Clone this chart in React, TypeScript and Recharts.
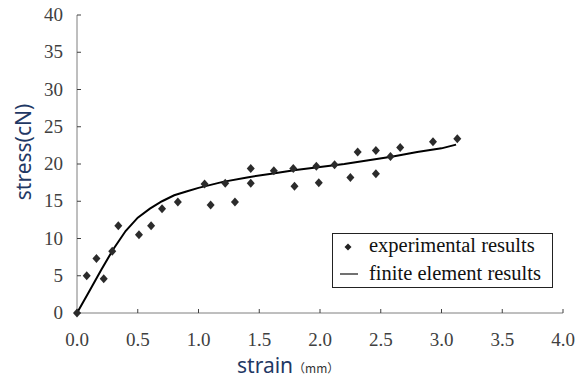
import React from 'react';
import {
  ComposedChart,
  XAxis,
  YAxis,
  Scatter,
  Line,
  Legend,
  Label,
} from 'recharts';

const strainExp = [
  0, 0.08, 0.16, 0.22, 0.29, 0.34, 0.51, 0.61, 0.7, 0.83, 1.05, 1.1, 1.22, 1.3, 1.43,
  1.43, 1.62, 1.78, 1.79, 1.97, 1.99, 2.12, 2.25, 2.31, 2.46, 2.46, 2.58, 2.66, 2.93, 3.13,
];
const stressExp = [
  0, 5.0, 7.3, 4.6, 8.3, 11.7, 10.5, 11.7, 14.0, 14.9, 17.3, 14.5, 17.4, 14.9, 17.4,
  19.4, 19.1, 19.4, 17.0, 19.7, 17.5, 19.9, 18.2, 21.6, 21.8, 18.7, 21.0, 22.2, 23.0, 23.4,
];

// finite element curve
const strainFem = [0, 0.1, 0.2, 0.3, 0.4, 0.5, 0.6, 0.7, 0.8, 0.9, 1.0, 1.2, 1.4, 1.6, 1.8, 2.0, 2.2, 2.4, 2.6, 2.8, 3.0, 3.12];
const stressFem = [0, 2.9, 5.8, 8.6, 11.0, 12.8, 14.0, 15.0, 15.8, 16.3, 16.8, 17.6, 18.2, 18.7, 19.2, 19.6, 20.0, 20.5, 21.0, 21.6, 22.1, 22.6];

const xTicks = [0, 0.5, 1, 1.5, 2, 2.5, 3, 3.5, 4];
const yTicks = [0, 5, 10, 15, 20, 25, 30, 35, 40];

const expData = strainExp.map((x, i) => ({ x, y: stressExp[i] }));
const femData = strainFem.map((x, i) => ({ x, y: stressFem[i] }));

const labelColor = '#1f3864';
const serif = { fontFamily: '"Liberation Serif", serif' };

// serif tick labels, drawn by hand so the font sticks
const XTick = (props: any) => {
  const { x, y, payload } = props;
  return (
    <text x={x} y={y + 14} textAnchor="middle" style={serif} fontSize={19} fill="#404040">
      {Number(payload.value).toFixed(1)}
    </text>
  );
};

const YTick = (props: any) => {
  const { x, y, payload } = props;
  return (
    <text x={x} y={y + 6} textAnchor="end" style={serif} fontSize={19} fill="#404040">
      {payload.value}
    </text>
  );
};

// small filled rhombus like the excel marker
const Diamond = (props: any) => {
  const { cx, cy } = props;
  return (
    <path
      d={`M${cx} ${cy - 4.5} L${cx + 4} ${cy} L${cx} ${cy + 4.5} L${cx - 4} ${cy} Z`}
      fill="#2b2b2b"
    />
  );
};

const LegendBox = () => (
  <svg width={221} height={55} style={{ display: 'block' }}>
    <rect x={0.5} y={0.5} width={220} height={54} fill="#fff" stroke="#222" />
    <path d="M16 10.5 L19.5 14 L16 17.5 L12.5 14 Z" fill="#222" />
    <text x={37} y={19} style={serif} fontSize={20.5} fill="#111">
      experimental results
    </text>
    <line x1={8} x2={26} y1={41} y2={41} stroke="#111" strokeWidth={1.2} />
    <text x={37} y={47} style={serif} fontSize={20.5} fill="#111">
      finite element results
    </text>
  </svg>
);

const YTitle = (props: any) => {
  const { x, y, height } = props.viewBox;
  const cx = x + 23;
  const cy = y + height / 2 - 12;
  return (
    <text
      x={cx}
      y={cy}
      transform={`rotate(-90 ${cx} ${cy})`}
      textAnchor="middle"
      dominantBaseline="central"
      fontFamily="Noto Sans"
      fontSize={21}
      fill={labelColor}
    >
      stress(cN)
    </text>
  );
};

const XTitle = (props: any) => {
  const { x, y } = props.viewBox;
  return (
    <text x={x + 160} y={y + 60} fontFamily="Noto Sans" fontSize={21} fill={labelColor}>
      strain
      <tspan fontFamily="Noto Sans CJK SC" fontSize={12} fill="#333">（mm）</tspan>
    </text>
  );
};

const App = () => {
  return (
    <div style={{ position: 'absolute', left: 0, top: 0, background: '#fff' }}>
      <ComposedChart
        width={585}
        height={378}
        margin={{ top: 15, right: 22, left: 0, bottom: 0 }}
      >
        <XAxis
          type="number"
          dataKey="x"
          domain={[0, 4]}
          ticks={xTicks}
          height={65}
          tickSize={-4}
          tickMargin={23}
          axisLine={{ stroke: '#7f7f7f' }}
          tickLine={{ stroke: '#404040' }}
          tick={<XTick />}
          interval={0}
        >
          <Label content={<XTitle />} />
        </XAxis>
        <YAxis
          type="number"
          dataKey="y"
          domain={[0, 40]}
          ticks={yTicks}
          width={77}
          tickSize={-4}
          tickMargin={18}
          axisLine={{ stroke: '#7f7f7f' }}
          tickLine={{ stroke: '#404040' }}
          tick={<YTick />}
          interval={0}
        >
          <Label content={<YTitle />} />
        </YAxis>
        <Line
          data={femData}
          dataKey="y"
          type="linear"
          stroke="#000"
          strokeWidth={2}
          dot={false}
          activeDot={false}
          isAnimationActive={false}
        />
        <Scatter
          data={expData}
          dataKey="y"
          shape={<Diamond />}
          fill="#2b2b2b"
          legendType="diamond"
          isAnimationActive={false}
        />
        <Legend
          layout="horizontal"
          verticalAlign="middle"
          align="center"
          content={<LegendBox />}
          wrapperStyle={{ left: 332, top: 233, width: 221, height: 55 }}
        />
      </ComposedChart>
    </div>
  );
};

export default App;
